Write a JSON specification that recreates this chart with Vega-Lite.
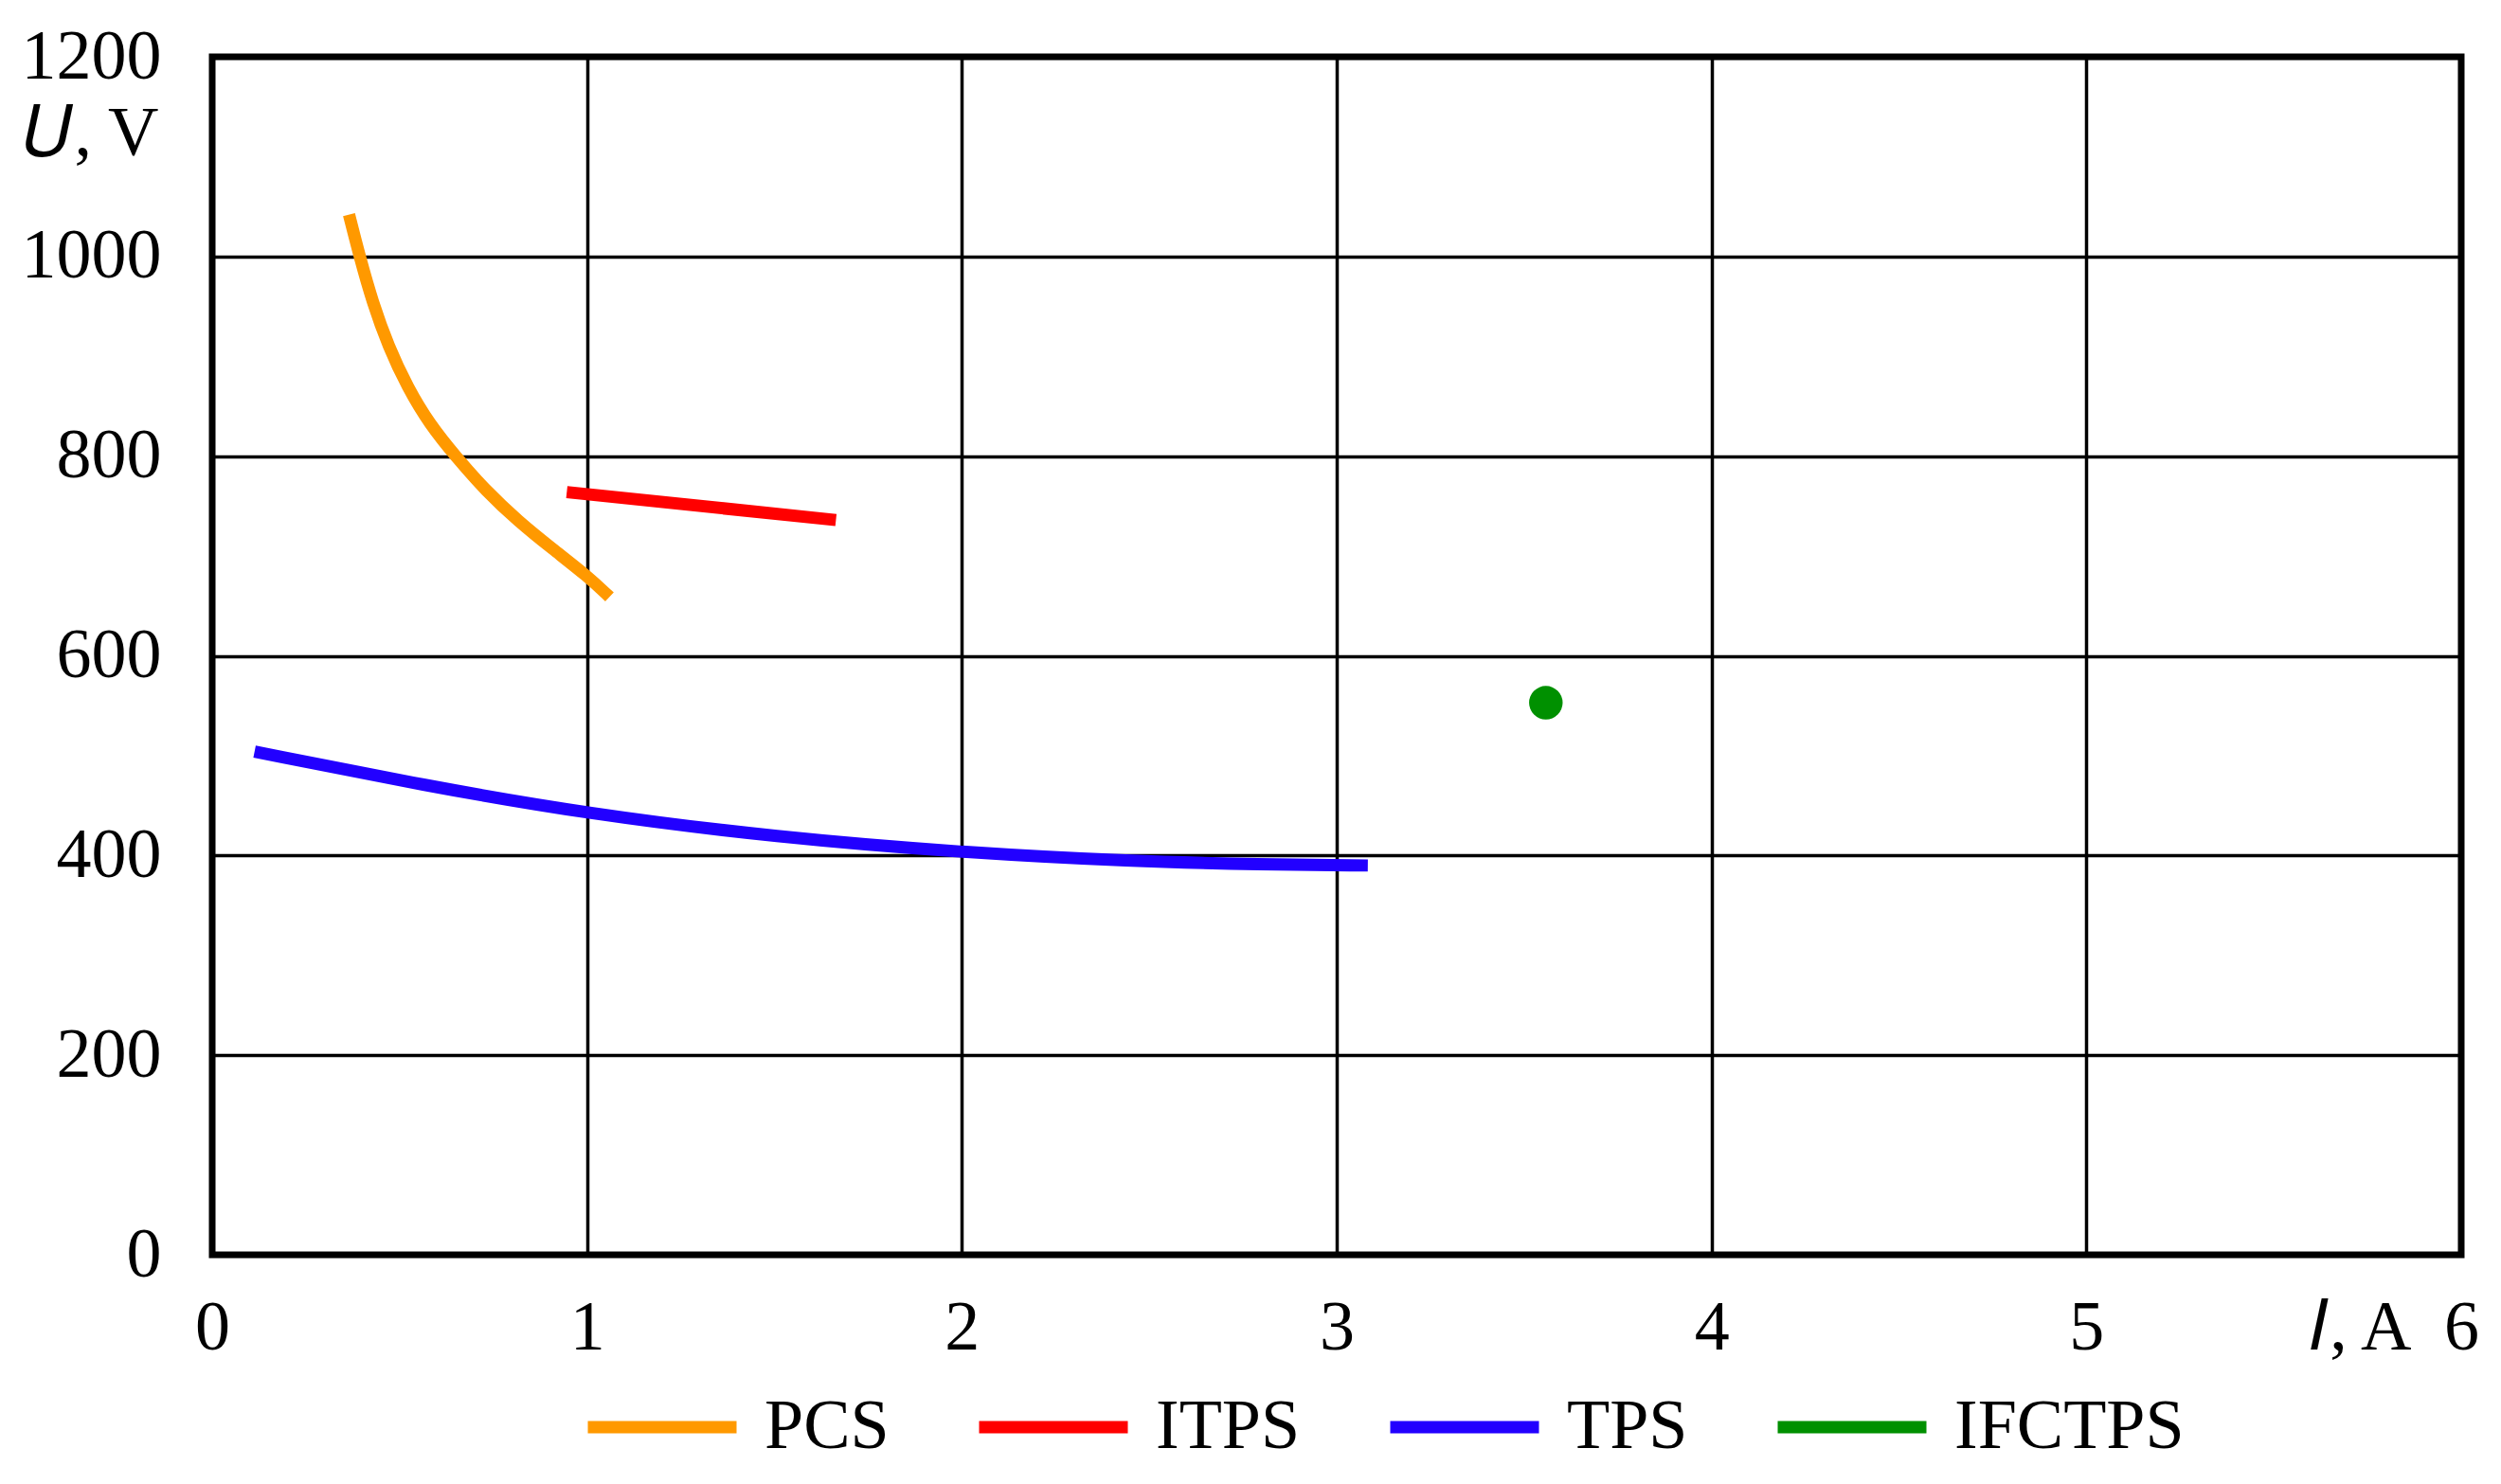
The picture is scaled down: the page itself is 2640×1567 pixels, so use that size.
{
  "$schema": "https://vega.github.io/schema/vega-lite/v6.json",
  "width": 2374,
  "height": 1265,
  "autosize": {"type": "none"},
  "padding": {"left": 224, "top": 60, "right": 42, "bottom": 242},
  "background": "white",
  "config": {
    "font": "Liberation Serif",
    "view": {"stroke": "black", "strokeWidth": 7},
    "axis": {
      "domain": false,
      "ticks": false,
      "grid": true,
      "gridColor": "black",
      "gridWidth": 3.5,
      "gridOpacity": 1,
      "labelFont": "Liberation Serif",
      "labelFontSize": 74,
      "labelColor": "black",
      "titleFont": "Liberation Serif",
      "titleFontSize": 74,
      "titleFontWeight": "normal",
      "titleColor": "black"
    },
    "legend": {
      "orient": "none",
      "legendX": 390,
      "legendY": 1362,
      "direction": "horizontal",
      "columns": 4,
      "symbolType": "stroke",
      "symbolSize": 24649,
      "symbolStrokeWidth": 13,
      "labelFont": "Liberation Serif",
      "labelFontSize": 74,
      "labelColor": "black",
      "labelOffset": 23,
      "labelLimit": 600,
      "columnPadding": 68,
      "padding": 0,
      "gridAlign": "none"
    }
  },
  "data": {
    "values": [
      {"series": "PCS", "I": 0.365, "U": 1042},
      {"series": "PCS", "I": 0.394, "U": 999},
      {"series": "PCS", "I": 0.428, "U": 954},
      {"series": "PCS", "I": 0.470, "U": 910},
      {"series": "PCS", "I": 0.521, "U": 869},
      {"series": "PCS", "I": 0.580, "U": 832},
      {"series": "PCS", "I": 0.651, "U": 799},
      {"series": "PCS", "I": 0.731, "U": 765},
      {"series": "PCS", "I": 0.816, "U": 735},
      {"series": "PCS", "I": 0.908, "U": 707},
      {"series": "PCS", "I": 1.001, "U": 680},
      {"series": "PCS", "I": 1.060, "U": 659},
      {"series": "ITPS", "I": 0.946, "U": 764},
      {"series": "ITPS", "I": 1.664, "U": 736},
      {"series": "TPS", "I": 0.113, "U": 504},
      {"series": "TPS", "I": 0.568, "U": 470},
      {"series": "TPS", "I": 0.997, "U": 442},
      {"series": "TPS", "I": 1.511, "U": 418},
      {"series": "TPS", "I": 2.0, "U": 403},
      {"series": "TPS", "I": 2.454, "U": 394},
      {"series": "TPS", "I": 2.8, "U": 391},
      {"series": "TPS", "I": 3.083, "U": 390},
      {"series": "IFCTPS", "I": 3.558, "U": 553}
    ]
  },
  "layer": [
    {
      "transform": [{"filter": "datum.series !== 'IFCTPS'"}],
      "mark": {"type": "line", "strokeWidth": 13, "interpolate": "basis", "strokeCap": "butt"},
      "encoding": {
        "x": {
          "field": "I", "type": "quantitative",
          "scale": {"domain": [0, 6], "nice": false, "zero": false},
          "axis": {
            "values": [0, 1, 2, 3, 4, 5, 6],
            "format": "d",
            "labelPadding": 41,
            "labelFlush": false,
            "title": "𝐼, A",
            "titleX": 2321,
            "titleY": 99,
            "titleAlign": "right",
            "titleBaseline": "alphabetic",
            "titleAnchor": null
          }
        },
        "y": {
          "field": "U", "type": "quantitative",
          "scale": {"domain": [0, 1200], "nice": false},
          "axis": {
            "values": [0, 200, 400, 600, 800, 1000, 1200],
            "format": "d",
            "labelPadding": 54,
            "labelFlush": false,
            "title": "𝑈, V",
            "titleAngle": 0,
            "titleX": -57,
            "titleY": 103,
            "titleAlign": "right",
            "titleBaseline": "alphabetic"
          }
        },
        "color": {
          "field": "series", "type": "nominal",
          "scale": {"domain": ["PCS", "ITPS", "TPS", "IFCTPS"], "range": ["#ff9900", "#ff0000", "#2200ff", "#009000"]},
          "legend": {"title": null}
        }
      }
    },
    {
      "transform": [{"filter": "datum.series === 'IFCTPS'"}],
      "mark": {"type": "point", "filled": true, "size": 1257, "opacity": 1, "shape": "circle"},
      "encoding": {
        "x": {"field": "I", "type": "quantitative"},
        "y": {"field": "U", "type": "quantitative"},
        "color": {"field": "series", "type": "nominal"}
      }
    }
  ]
}
